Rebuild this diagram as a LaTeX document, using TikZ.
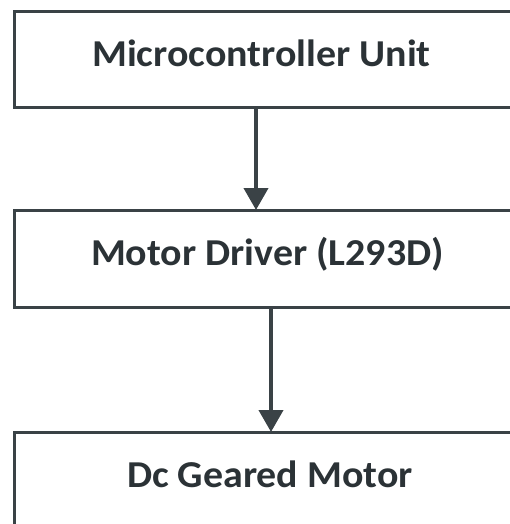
\documentclass[tikz,border=0pt]{standalone}
\usepackage{fontspec}
\setmainfont{Carlito}
\newfontfamily\lblfont[FakeStretch=1.05]{Carlito}
\usetikzlibrary{arrows.meta}
\definecolor{ink}{HTML}{3A4246}
\definecolor{txt}{HTML}{2B3236}
\begin{document}
\begin{tikzpicture}[x=1pt,y=-1pt,
  blk/.style={draw=ink,line width=3pt},
  lbl/.style={text=txt,font=\lblfont\fontsize{38}{44}\selectfont\bfseries,inner sep=0pt,anchor=base},
  arr/.style={draw=ink,line width=4pt,-{Triangle[width=24pt,length=22pt]}}]
\useasboundingbox (0,0) rectangle (510,524);
\clip (0,0) rectangle (510,524);
\fill[white] (0,0) rectangle (510,524);
\draw[blk] (14,12) rectangle (530,108);
\draw[blk] (14,210) rectangle (530,307);
\draw[blk] (14,432) rectangle (530,560);
\node[lbl] (mcu) at (261.5,67) {Microcontroller Unit};
\node[lbl] (drv) at (267.5,265) {Motor Driver (L293D)};
\node[lbl] (mot) at (270,487) {Dc Geared Motor};
\coordinate (a1s) at (256,108);
\coordinate (a1e) at (256,210);
\coordinate (a2s) at (271,307);
\coordinate (a2e) at (271,432);
\draw[arr] (a1s) -- (a1e);
\draw[arr] (a2s) -- (a2e);
\end{tikzpicture}
\end{document}
